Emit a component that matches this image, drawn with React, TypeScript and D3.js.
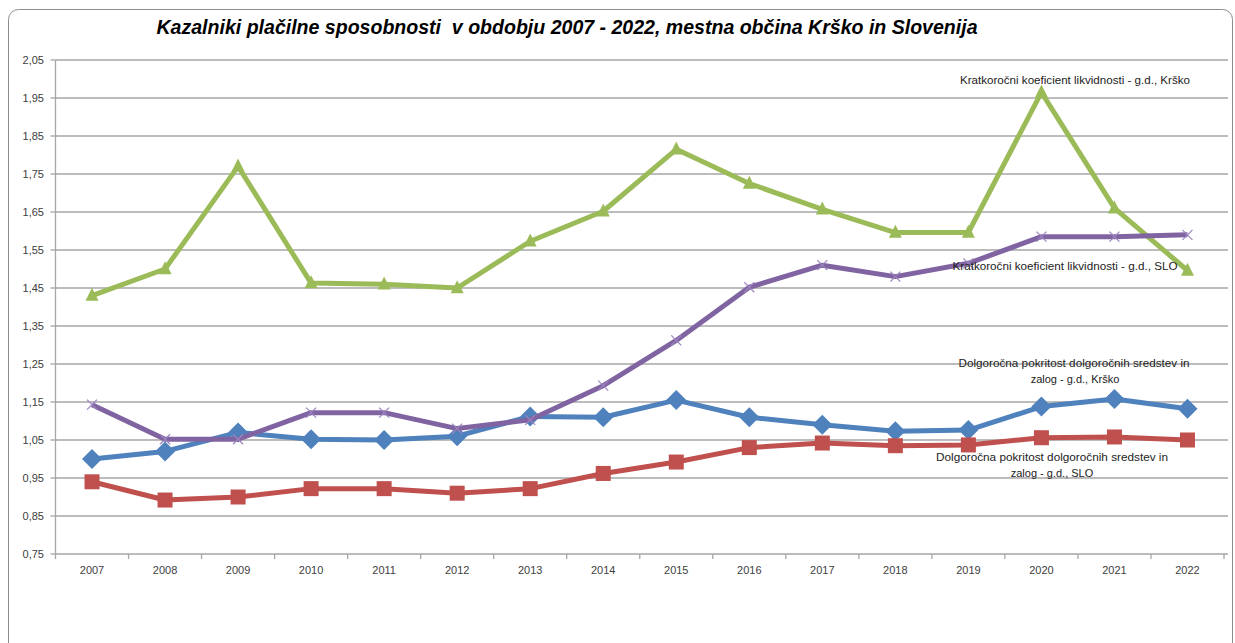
import React from "react";
import * as d3 from "d3";

const years = ["2007","2008","2009","2010","2011","2012","2013","2014","2015","2016","2017","2018","2019","2020","2021","2022"];
const kratkoKrsko = [1.43,1.50,1.77,1.463,1.46,1.45,1.573,1.652,1.815,1.725,1.657,1.596,1.596,1.965,1.66,1.496];
const kratkoSLO = [1.143,1.052,1.052,1.122,1.122,1.08,1.103,1.193,1.312,1.452,1.51,1.48,1.515,1.585,1.585,1.59];
const dolgoKrsko = [1.0,1.02,1.07,1.052,1.05,1.06,1.112,1.11,1.155,1.11,1.09,1.073,1.076,1.138,1.158,1.132];
const dolgoSLO = [0.94,0.892,0.90,0.922,0.922,0.91,0.922,0.962,0.992,1.03,1.042,1.035,1.037,1.056,1.058,1.05];
const yTicks = [0.75,0.85,0.95,1.05,1.15,1.25,1.35,1.45,1.55,1.65,1.75,1.85,1.95,2.05];

const title = "Kazalniki plačilne sposobnosti  v obdobju 2007 - 2022, mestna občina Krško in Slovenija";

const W = 1235, H = 643;
const left = 55.5, right = 1224, top = 60, bottom = 554;

export default function App() {
  const x = d3.scaleBand<string>().domain(years).range([left, right]);
  const xc = (i: number) => (x(years[i]) as number) + x.bandwidth() / 2;
  const y = d3.scaleLinear().domain([0.75, 2.05]).range([bottom, top]);
  const line = d3.line<number>().x((_, i) => xc(i)).y((d) => y(d));
  const font = "'Liberation Sans', Arial, sans-serif";
  const grid = "#a6a6a6";

  const diamond = (cx: number, cy: number, r: number) =>
    `M${cx},${cy - r}L${cx + r},${cy}L${cx},${cy + r}L${cx - r},${cy}Z`;
  const tri = (cx: number, cy: number, s: number) =>
    `M${cx},${cy - s * 0.6}L${cx + s / 2},${cy + s * 0.4}L${cx - s / 2},${cy + s * 0.4}Z`;

  const fmt = (v: number) => v.toFixed(2).replace(".", ",");

  return (
    <svg width={W} height={H} style={{ position: "absolute", left: 0, top: 0, background: "#fff" }}>
      <rect x={8.5} y={9.5} width={1224} height={700} rx={10} fill="#fff" stroke="#8c8c8c" strokeWidth={1} />
      <text x={567} y={34} textAnchor="middle" fontFamily={font} fontWeight="bold" fontStyle="italic" fontSize={20}
        textLength={821} lengthAdjust="spacingAndGlyphs" fill="#000" style={{ whiteSpace: "pre" }}>{title}</text>

      {yTicks.map((t) => (
        <g key={t}>
          <line x1={left} x2={right + 4} y1={y(t)} y2={y(t)} stroke={grid} strokeWidth={1.3} />
          <line x1={left - 5} x2={left} y1={y(t)} y2={y(t)} stroke={grid} strokeWidth={1.3} />
          <text x={44} y={y(t) + 4} textAnchor="end" fontFamily={font} fontSize={11} fill="#404040">{fmt(t)}</text>
        </g>
      ))}
      <line x1={left} x2={left} y1={top} y2={bottom} stroke={grid} strokeWidth={1.3} />
      {years.map((yr, i) => (
        <g key={yr}>
          <line x1={x(yr)} x2={x(yr)} y1={bottom} y2={bottom + 5} stroke={grid} strokeWidth={1.3} />
          <text x={xc(i)} y={574} textAnchor="middle" fontFamily={font} fontSize={11} fill="#404040">{yr}</text>
        </g>
      ))}
      <line x1={right} x2={right} y1={bottom} y2={bottom + 5} stroke={grid} strokeWidth={1.3} />

      {/* Dolgoročna Krško - blue */}
      <path d={line(dolgoKrsko) as string} fill="none" stroke="#4F81BD" strokeWidth={5} strokeLinejoin="round" />
      {dolgoKrsko.map((v, i) => (
        <path key={i} d={diamond(xc(i), y(v), 10)} fill="#4F81BD" />
      ))}
      {/* Dolgoročna SLO - red */}
      <path d={line(dolgoSLO) as string} fill="none" stroke="#C0504D" strokeWidth={5} strokeLinejoin="round" />
      {dolgoSLO.map((v, i) => (
        <rect key={i} x={xc(i) - 7.5} y={y(v) - 7.5} width={15} height={15} fill="#C0504D" />
      ))}
      {/* Kratkoročni Krško - green */}
      <path d={line(kratkoKrsko) as string} fill="none" stroke="#9BBB59" strokeWidth={5} strokeLinejoin="round" />
      {kratkoKrsko.map((v, i) => (
        <path key={i} d={tri(xc(i), y(v), 13)} fill="#9BBB59" />
      ))}
      {/* Kratkoročni SLO - purple */}
      <path d={line(kratkoSLO) as string} fill="none" stroke="#8064A2" strokeWidth={5} strokeLinejoin="round" />
      {kratkoSLO.map((v, i) => (
        <g key={i} stroke="#9c84c0" strokeWidth={1.2}>
          <line x1={xc(i) - 5} x2={xc(i) + 5} y1={y(v) - 5} y2={y(v) + 5} />
          <line x1={xc(i) - 5} x2={xc(i) + 5} y1={y(v) + 5} y2={y(v) - 5} />
        </g>
      ))}

      <g fontFamily={font} fontSize={11} fill="#222" textAnchor="middle">
        <text x={1075} y={84} textLength={230} lengthAdjust="spacingAndGlyphs">Kratkoročni koeficient likvidnosti - g.d., Krško</text>
        <text x={1065} y={270} textLength={225} lengthAdjust="spacingAndGlyphs">Kratkoročni koeficient likvidnosti - g.d., SLO</text>
        <text x={1074} y={367} textLength={231} lengthAdjust="spacingAndGlyphs">Dolgoročna pokritost dolgoročnih sredstev in</text>
        <text x={1075} y={383}>zalog - g.d., Krško</text>
        <text x={1052} y={461} textLength={232} lengthAdjust="spacingAndGlyphs">Dolgoročna pokritost dolgoročnih sredstev in</text>
        <text x={1052} y={477}>zalog - g.d., SLO</text>
      </g>
    </svg>
  );
}
